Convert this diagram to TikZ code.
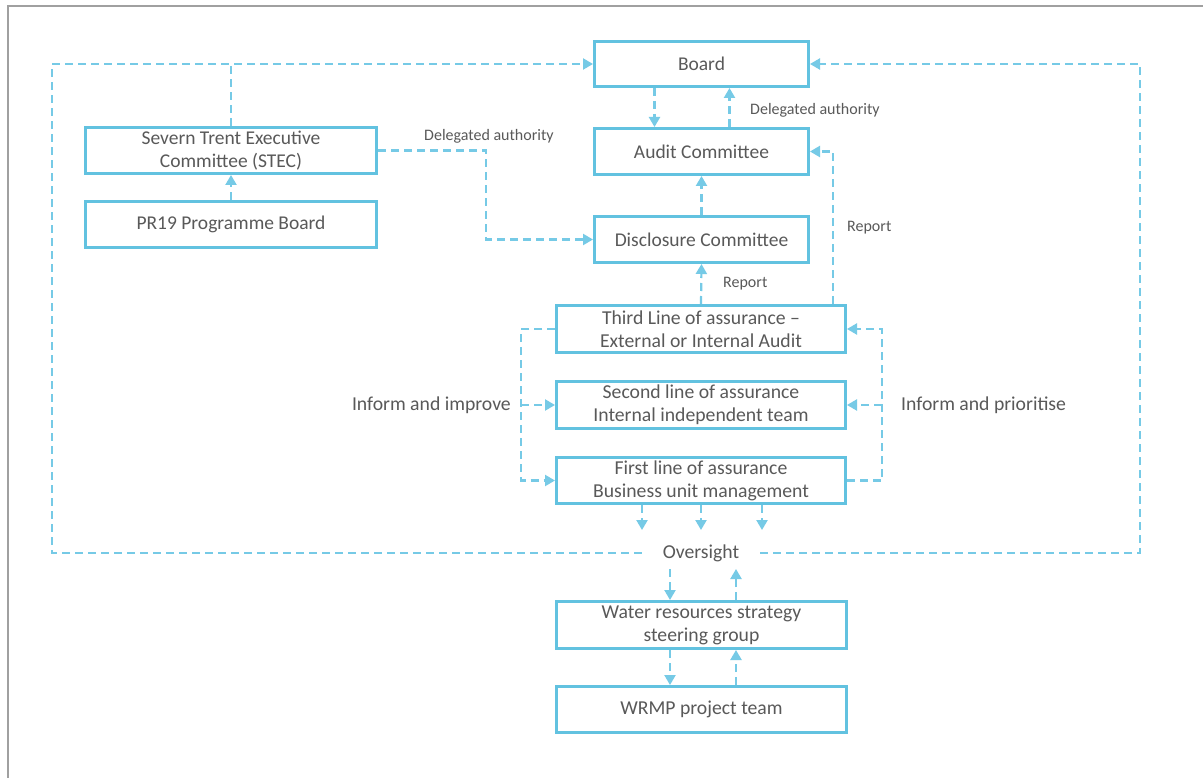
\documentclass[tikz,border=0pt]{standalone}
\usepackage{fontspec}
\setmainfont{Carlito}
\usetikzlibrary{arrows.meta}
\definecolor{boxblue}{RGB}{98,194,224}
\definecolor{linkblue}{RGB}{118,202,230}
\definecolor{txtgray}{RGB}{89,89,89}
\definecolor{framegray}{RGB}{160,160,160}
\tikzset{
  box/.style={draw=boxblue, line width=3pt, fill=white, text=txtgray, align=center, inner sep=0pt},
  upbox/.style={box, font=\fontsize{19.5}{23}\selectfont},
  lowbox/.style={box, font=\fontsize{19.7}{23}\selectfont},
  conn/.style={draw=linkblue, line width=2.2pt, dash pattern=on 8pt off 5pt},
  arr/.style={conn, -{Triangle[length=10pt,width=11pt]}},
  smalllbl/.style={text=txtgray, font=\fontsize{16}{19}\selectfont, inner sep=0pt},
  sidelbl/.style={text=txtgray, font=\fontsize{19.7}{23}\selectfont, inner sep=0pt},
}
\begin{document}
\begin{tikzpicture}[x=1pt,y=-1pt]
\useasboundingbox (0,0) rectangle (1203,778);
\fill[white] (0,0) rectangle (1203,778);
\draw[framegray, line width=2pt] (8,778) -- (8,6) -- (1203,6);

% nodes
\node[upbox, minimum width=214pt, minimum height=45pt] (board) at (701.5,64) {Board};
\node[upbox, minimum width=214pt, minimum height=46pt] (audit) at (701.5,151.5) {Audit Committee};
\node[upbox, minimum width=214pt, minimum height=46pt] (disc) at (701.5,239.5) {Disclosure Committee};
\node[upbox, minimum width=291pt, minimum height=46pt] (stec) at (231,150.5) {Severn Trent Executive\\Committee (STEC)};
\node[upbox, minimum width=291pt, minimum height=46pt] (pr19) at (231,224.5) {PR19 Programme Board};
\node[lowbox, minimum width=289pt, minimum height=47pt] (third) at (701,329) {Third Line of assurance --\\External or Internal Audit};
\node[lowbox, minimum width=289pt, minimum height=47pt] (second) at (701,405) {Second line of assurance\\Internal independent team};
\node[lowbox, minimum width=289pt, minimum height=46pt] (first) at (701,480.5) {First line of assurance\\Business unit management};
\node[lowbox, minimum width=290pt, minimum height=47pt] (water) at (701.5,625) {Water resources strategy\\steering group};
\node[lowbox, minimum width=290pt, minimum height=46pt] (wrmp) at (701.5,709.5) {WRMP project team};
\node[sidelbl, inner xsep=21pt, inner ysep=0pt] (oversight) at (701,553) {Oversight};

% labels
\node[smalllbl, anchor=west] (lblda1) at (750,110) {Delegated authority};
\node[smalllbl, anchor=west] (lblda2) at (424,136) {Delegated authority};
\node[smalllbl, anchor=west] (lblrep1) at (723,284) {Report};
\node[smalllbl, anchor=west] (lblrep2) at (847,228) {Report};
\node[sidelbl, anchor=east] (lblimp) at (511,405) {Inform and improve};
\node[sidelbl, anchor=west] (lblpri) at (901,405) {Inform and prioritise};

% coordinates
\coordinate (lcorner) at (52,64);
\coordinate (rcorner) at (1140,64);
\coordinate (stecbend) at (486,150.5);
\coordinate (ltop) at (521,329);
\coordinate (lmid) at (521,405);
\coordinate (rbot) at (882,480.5);
\coordinate (rmid) at (882,405);
\coordinate (d1) at (642,530);
\coordinate (d2) at (701,530);
\coordinate (d3) at (762,530);
\coordinate (od) at (670,569);
\coordinate (ou) at (736,569);

% outer oversight loop
\draw[arr] (oversight.west) -| (lcorner) -- (board.west);
\draw[conn] (stec.north) -- (stec.north |- board.west);
\draw[arr] (oversight.east) -| (rcorner) -- (board.east);

% board/audit
\draw[arr] ([xshift=-47pt]board.south) -- ([xshift=-47pt]audit.north);
\draw[arr] ([xshift=28pt]audit.north) -- ([xshift=28pt]board.south);

% stec
\draw[arr] (stec.east) -- (stecbend) |- (disc.west);
\draw[arr] (pr19.north) -- (stec.south);

% disclosure/audit
\draw[arr] (disc.north) -- (audit.south);
\draw[arr] (third.north) -- (disc.south);
\draw[arr] ([xshift=132pt]third.north) |- (audit.east);

% lines of assurance
\draw[arr] (third.west) -- (ltop) |- (first.west);
\draw[arr] (lmid) -- (second.west);
\draw[arr] (first.east) -- (rbot) |- (third.east);
\draw[arr] (rmid) -- (second.east);

% first to oversight
\draw[arr] (first.south -| d1) -- (d1);
\draw[arr] (first.south) -- (d2);
\draw[arr] (first.south -| d3) -- (d3);

% oversight / water / wrmp
\draw[arr] (od) -- (water.north -| od);
\draw[arr] (water.north -| ou) -- (ou);
\draw[arr] (water.south -| od) -- (wrmp.north -| od);
\draw[arr] (wrmp.north -| ou) -- (water.south -| ou);
\end{tikzpicture}
\end{document}
